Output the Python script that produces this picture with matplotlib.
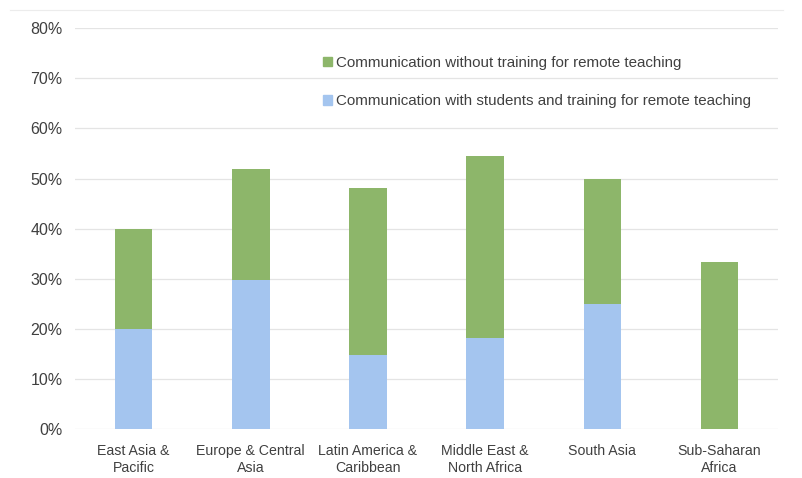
import matplotlib
matplotlib.use("Agg")
import matplotlib.pyplot as plt
from matplotlib.lines import Line2D
from matplotlib.patches import Patch
from matplotlib.ticker import FuncFormatter, MultipleLocator

categories = ["East Asia &\nPacific", "Europe & Central\nAsia", "Latin America &\nCaribbean",
              "Middle East &\nNorth Africa", "South Asia", "Sub-Saharan\nAfrica"]
with_training = [20.0, 29.7, 14.8, 18.2, 25.0, 0.0]
without_training = [20.0, 22.2, 33.4, 36.3, 25.0, 33.3]
series_labels = ["Communication with students and training for remote teaching",
                 "Communication without training for remote teaching"]

plt.rcParams['font.family'] = ['Liberation Sans', 'DejaVu Sans']

blue = "#a4c5ef"
green = "#8db66a"
txt = "#404040"

fig = plt.figure(figsize=(8.03, 4.78), dpi=100)
ax = fig.add_axes([0.0934, 0.1025, 0.8756, 0.8385])
x = range(len(categories))
ax.bar(x, with_training, width=0.32, color=blue, zorder=2)
ax.bar(x, without_training, width=0.32, bottom=with_training, color=green, zorder=2)

ax.set_xlim(-0.5, len(categories) - 0.5)
ax.set_ylim(0, 80)
ax.yaxis.set_major_locator(MultipleLocator(10))
ax.yaxis.set_major_formatter(FuncFormatter(lambda v, p: f"{v:.0f}%"))
ax.grid(axis='y', color="#e4e4e4", linewidth=0.9, zorder=0)
for s in ax.spines.values():
    s.set_visible(False)
ax.tick_params(length=0, colors=txt)
ax.tick_params(axis='y', pad=9, labelsize=11.5)
ax.tick_params(axis='x', pad=11, labelsize=10.2)
ax.set_xticks(list(x))
ax.set_xticklabels(categories, linespacing=1.25)

handles = [Patch(color=green), Patch(color=blue)]
ax.legend(handles, [series_labels[1], series_labels[0]], loc='upper left',
          bbox_to_anchor=(0.333, 0.965), frameon=False, fontsize=10.9, labelcolor=txt,
          handlelength=0.6, handleheight=0.6, handletextpad=0.3, labelspacing=1.62)

fig.add_artist(Line2D([0.012, 0.975], [1 - 10/478, 1 - 10/478], color="#ececec", linewidth=0.8))

fig.savefig("out.png", dpi=100)
